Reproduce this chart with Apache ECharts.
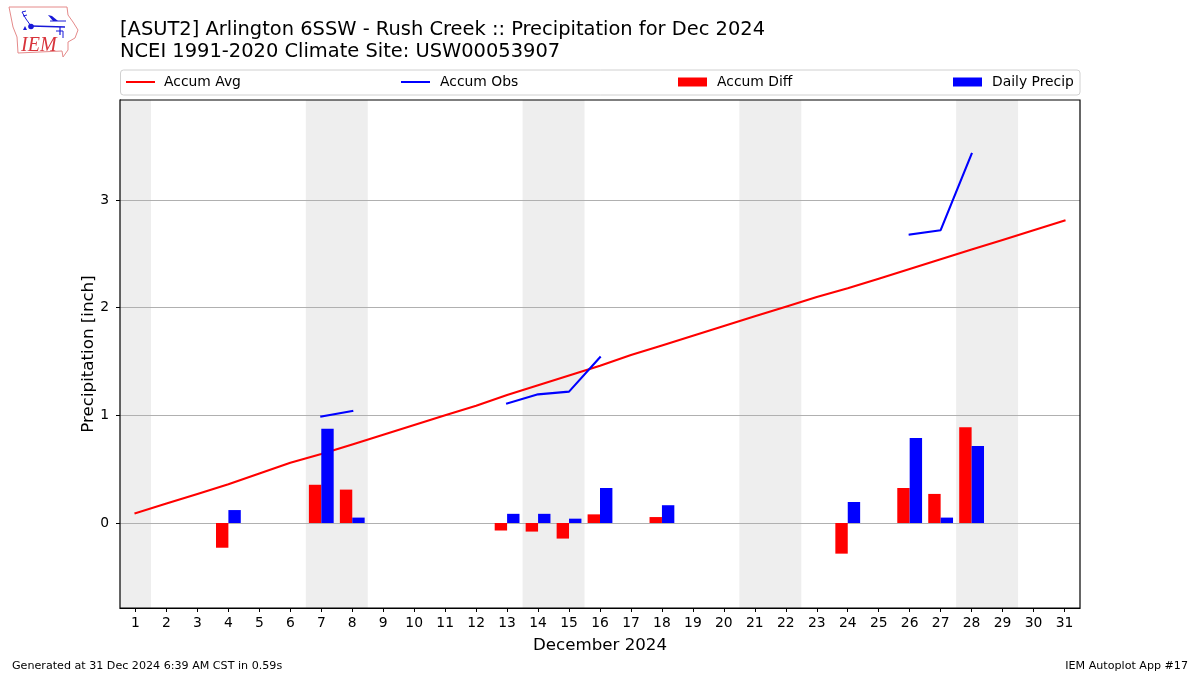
<!DOCTYPE html>
<html><head><meta charset="utf-8">
<style>html,body{margin:0;padding:0;background:#fff}#c{width:1200px;height:675px}</style>
<script src="https://cdn.jsdelivr.net/npm/echarts@6/dist/echarts.min.js"></script>
</head><body><div id="c"></div>
<script>
const days = ['1','2','3','4','5','6','7','8','9','10','11','12','13','14','15','16','17','18','19','20','21','22','23','24','25','26','27','28','29','30','31'];
const accumAvg = [0.09,0.18,0.27,0.36,0.46,0.56,0.64,0.73,0.82,0.91,1.00,1.09,1.19,1.28,1.37,1.46,1.56,1.65,1.74,1.83,1.92,2.01,2.10,2.18,2.27,2.36,2.45,2.54,2.63,2.72,2.81];
const accumObs = [null,null,null,null,null,null,0.99,1.04,null,null,null,null,1.11,1.195,1.22,1.54,null,null,null,null,null,null,null,null,null,2.68,2.72,3.43,null,null,null];
const accumDiff = [null,null,null,-0.23,null,null,0.355,0.31,null,null,null,null,-0.07,-0.08,-0.145,0.08,null,0.055,null,null,null,null,null,-0.285,null,0.325,0.27,0.89,null,null,null];
const dailyPrecip = [null,null,null,0.12,null,null,0.875,0.05,null,null,null,null,0.085,0.085,0.04,0.325,null,0.165,null,null,null,null,null,0.195,null,0.79,0.05,0.715,null,null,null];
const weekendSpans = [[0.5,1.5],[6.5,8.5],[13.5,15.5],[20.5,22.5],[27.5,29.5]];
const yTicks = [0,1,2,3];
const titleLines = '[ASUT2] Arlington 6SSW - Rush Creek :: Precipitation for Dec 2024\nNCEI 1991-2020 Climate Site: USW00053907';
const FONT = 'DejaVu Sans';

const chart = echarts.init(document.getElementById('c'), null, {renderer:'canvas'});
const legendItem = (name, left, iconH, pad) => ({
  show:true, data:[{name,icon:'rect'}], left, top:75, itemWidth:29, itemHeight:iconH, padding:0,
  selectedMode:false,
  textStyle:{fontFamily:FONT,fontSize:13.89,color:'#000',padding:[0,0,0,pad]}
});
chart.setOption({
  animation:false,
  backgroundColor:'#fff',
  textStyle:{fontFamily:FONT},
  title:{text:titleLines,left:120,top:19,padding:0,
    textStyle:{fontFamily:FONT,fontSize:19.44,fontWeight:'normal',color:'#000',lineHeight:22}},
  legend:[legendItem('Accum Avg',126,2,4),legendItem('Accum Obs',401,2,5),legendItem('Accum Diff',678,9,5),legendItem('Daily Precip',953,9,5)],
  grid:{left:120,top:100,width:960,height:508,show:true,borderColor:'#000',borderWidth:1.2,backgroundColor:'transparent',z:5},
  xAxis:[{
    type:'category',data:days,gridIndex:0,
    name:'December 2024',nameLocation:'middle',nameGap:29,
    nameTextStyle:{fontFamily:FONT,fontSize:16.67,color:'#000'},
    axisLine:{show:true,onZero:false,lineStyle:{color:'#000',width:1}},
    axisTick:{show:true,alignWithLabel:true,length:4,lineStyle:{color:'#000'}},
    axisLabel:{interval:0,fontFamily:FONT,fontSize:13.89,color:'#000',margin:8},
    splitLine:{show:false}
  },{
    type:'value',min:0.5,max:31.5,show:false,gridIndex:0,splitLine:{show:false}
  }],
  yAxis:{
    type:'value',min:-0.79,max:3.93,
    name:'Precipitation [inch]',nameLocation:'middle',nameGap:23,nameRotate:90,nameMoveOverlap:false,
    nameTextStyle:{fontFamily:FONT,fontSize:16.67,color:'#000'},
    axisLine:{show:true,onZero:false,lineStyle:{color:'#000',width:1}},
    axisTick:{show:true,length:4,customValues:yTicks,lineStyle:{color:'#000'}},
    axisLabel:{fontFamily:FONT,fontSize:13.89,color:'#000',margin:11,customValues:yTicks},
    splitLine:{show:false}
  },
  series:[
    {type:'line',name:'_shade',xAxisIndex:1,data:[],silent:true,z:1,
     markArea:{silent:true,itemStyle:{color:'#eeeeee'},
       data:weekendSpans.map(s=>[{xAxis:s[0]},{xAxis:s[1]}])}},
    {type:'line',name:'_grid',data:[],silent:true,z:1,
     markLine:{silent:true,symbol:'none',label:{show:false},z:2,animation:false,
       lineStyle:{color:'#b0b0b0',width:1.1,type:'solid'},
       data:yTicks.map(v=>({yAxis:v}))}},
    {type:'line',name:'Accum Avg',data:accumAvg,showSymbol:false,symbol:'none',z:3,
     lineStyle:{color:'#ff0000',width:2.1,cap:'square'},itemStyle:{color:'#ff0000'}},
    {type:'line',name:'Accum Obs',data:accumObs,showSymbol:false,symbol:'none',z:3,connectNulls:false,
     lineStyle:{color:'#0000ff',width:2.1,cap:'square'},itemStyle:{color:'#0000ff'}},
    {type:'bar',name:'Accum Diff',data:accumDiff,barWidth:12.4,barGap:'0%',z:4,itemStyle:{color:'#ff0000'}},
    {type:'bar',name:'Daily Precip',data:dailyPrecip,barWidth:12.4,barGap:'0%',z:4,itemStyle:{color:'#0000ff'}}
  ],
  graphic:[
    {type:'rect',shape:{x:120.5,y:70,width:959.5,height:25,r:3},style:{fill:'#fff',stroke:'#d0d0d0',lineWidth:1},z:-1},
    {type:'text',left:12,top:661,style:{text:'Generated at 31 Dec 2024 6:39 AM CST in 0.59s',font:'11.11px "DejaVu Sans"',fill:'#000'}},
    {type:'text',right:12,top:661,style:{text:'IEM Autoplot App #17',font:'11.11px "DejaVu Sans"',fill:'#000'}},
    {type:'polyline',shape:{points:[[9,7],[67,7],[68,15],[73,22],[78,30],[75,38],[68,42],[68,50],[63,57],[62,51],[18,53],[17,37],[13,27],[9,7]]},
      style:{fill:'#fff',stroke:'#e58a8a',lineWidth:1}},
    {type:'polyline',shape:{points:[[31,26],[65,27]]},style:{stroke:'#1818d8',lineWidth:1.6,fill:null}},
    {type:'polyline',shape:{points:[[31,26],[26,19],[22,12]]},style:{stroke:'#1818d8',lineWidth:1,fill:null}},
    {type:'polyline',shape:{points:[[22,12],[26,11]]},style:{stroke:'#1818d8',lineWidth:1,fill:null}},
    {type:'polyline',shape:{points:[[23,16],[27,15]]},style:{stroke:'#1818d8',lineWidth:1,fill:null}},
    {type:'circle',shape:{cx:31,cy:26.5,r:2.8},style:{fill:'#1818d8'}},
    {type:'polygon',shape:{points:[[48,15],[52,16],[58,21],[53,21]]},style:{fill:'#1818d8'}},
    {type:'polyline',shape:{points:[[50,21],[66,21]]},style:{stroke:'#1818d8',lineWidth:1,fill:null}},
    {type:'polyline',shape:{points:[[60,27],[60,35]]},style:{stroke:'#1818d8',lineWidth:1.2,fill:null}},
    {type:'polyline',shape:{points:[[56,31],[63,31],[63,38]]},style:{stroke:'#1818d8',lineWidth:1,fill:null}},
    {type:'polygon',shape:{points:[[23,30],[27,30],[25,26]]},style:{fill:'#1818d8'}},
    {type:'text',left:21,top:36,style:{text:'IEM',font:'italic 20px "Liberation Serif"',fill:'#d8343c'}}
  ]
});
</script></body></html>
